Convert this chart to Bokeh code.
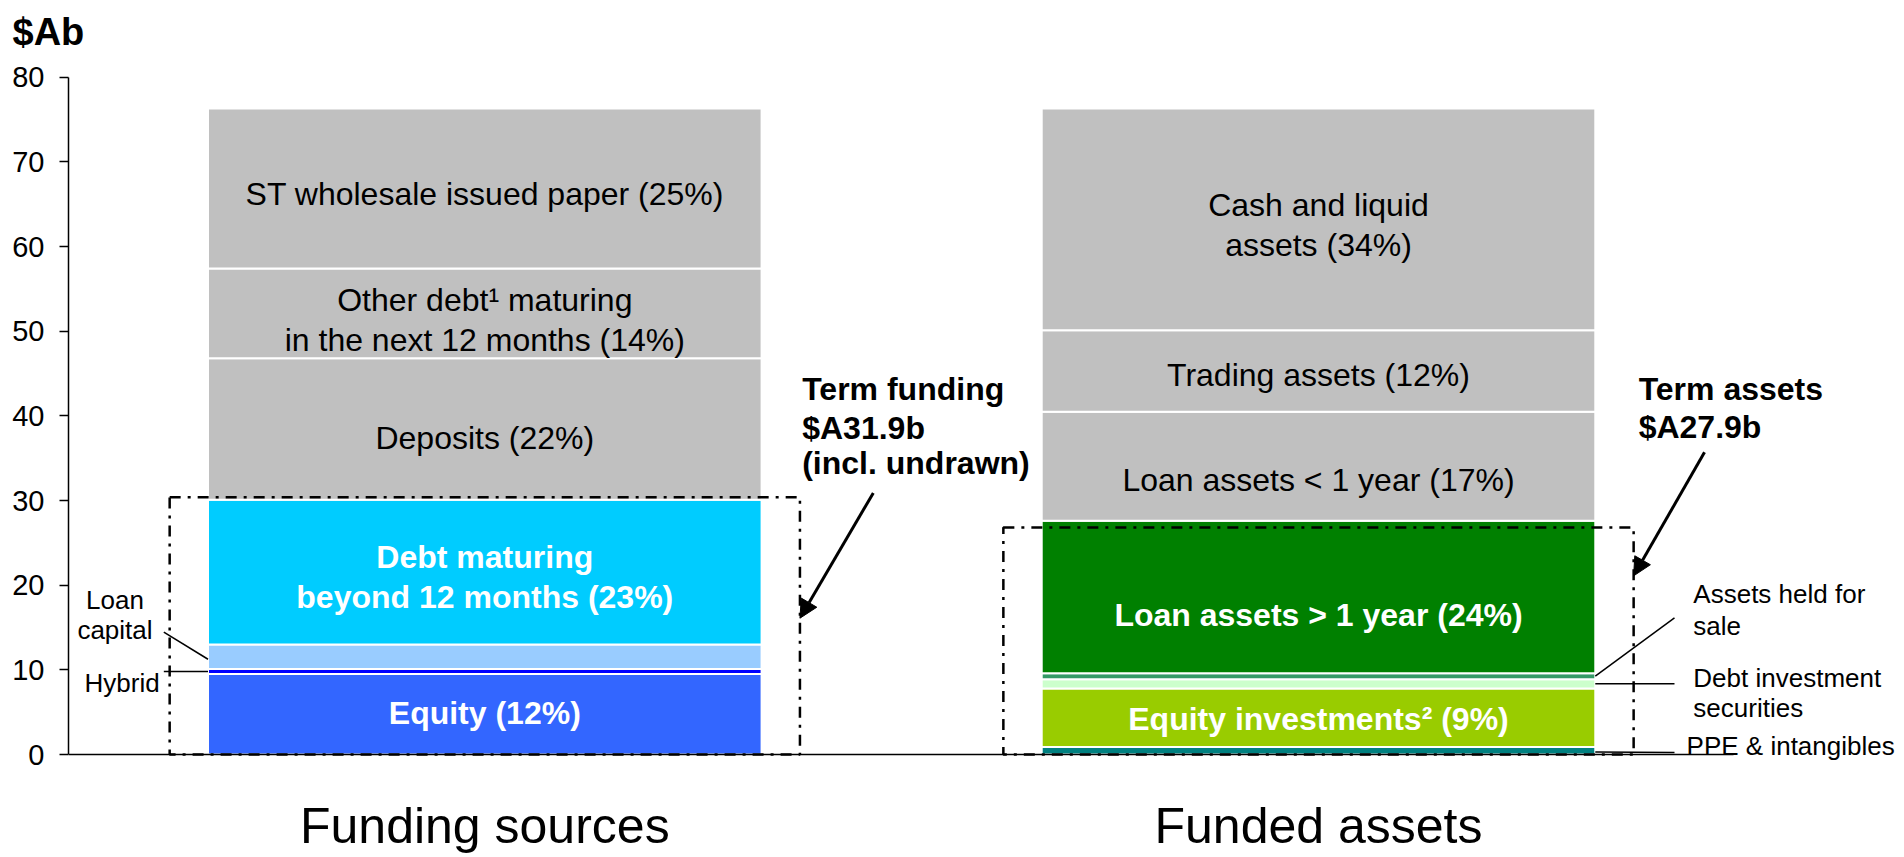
from bokeh.plotting import figure
from bokeh.models import Arrow, NormalHead, FixedTicker, Range1d, ColumnDataSource
from bokeh.core.properties import value
from bokeh.embed import file_html
from bokeh.resources import INLINE

FONT = "Liberation Sans"

# ---------------- data ----------------
categories = ["Funding sources", "Funded assets"]

funding_segments = ["Equity", "Hybrid", "Loan capital", "Debt maturing beyond 12 months",
                    "Deposits", "Other debt maturing in the next 12 months",
                    "ST wholesale issued paper"]
funding_values = [9.5, 0.6, 2.9, 17.1, 16.7, 10.6, 18.9]

asset_segments = ["PPE & intangibles", "Equity investments", "Debt investment securities",
                  "Assets held for sale", "Loan assets > 1 year", "Loan assets < 1 year",
                  "Trading assets", "Cash and liquid assets"]
asset_values = [0.9, 6.9, 1.1, 0.7, 18.0, 12.9, 9.6, 26.2]

term_titles = ["Term funding", "Term assets"]
term_totals = ["$A31.9b", "$A27.9b"]
term_box_tops = [30.4, 26.8]

y_ticks = [0, 10, 20, 30, 40, 50, 60, 70, 80]

# in-bar label text (segment index -> lines)
funding_inbar = {0: ["Equity (12%)"],
                 3: ["Debt maturing", "beyond 12 months (23%)"],
                 4: ["Deposits (22%)"],
                 5: ["Other debt\u00b9 maturing", "in the next 12 months (14%)"],
                 6: ["ST wholesale issued paper (25%)"]}
asset_inbar = {1: ["Equity investments\u00b2 (9%)"],
               4: ["Loan assets > 1 year (24%)"],
               5: ["Loan assets < 1 year (17%)"],
               6: ["Trading assets (12%)"],
               7: ["Cash and liquid", "assets (34%)"]}

# ---------------- styles / layout ----------------
funding_colors = ["#3366FF", "#0000FF", "#99CCFF", "#00CCFF", "#C0C0C0", "#C0C0C0", "#C0C0C0"]
asset_colors = ["#008080", "#99CC00", "#CCFFCC", "#339966", "#008000", "#C0C0C0", "#C0C0C0", "#C0C0C0"]
funding_bold = {0, 3}
asset_bold = {1, 4}
funding_nudge = {0: -1, 3: 5, 4: 9, 5: 7, 6: 5}
asset_nudge = {1: 1, 4: 18, 5: 14, 6: 4, 7: 6}
BAR_W = 0.664
BOX_HALF = 0.378
LINE_GAP = 40

W, H = 1900, 855
LEFT, TOP = 68, 60
PX_X = 833.7          # px per x unit
PX_Y = 8.466          # px per y unit
X0_PX = 484.3         # page x of x=0
Y0_PX = 754.0         # page y of y=0
x_lo = (LEFT - X0_PX) / PX_X
x_hi = (W - X0_PX) / PX_X
y_hi = (Y0_PX - TOP) / PX_Y
y_lo = (Y0_PX - H) / PX_Y

p = figure(width=W, height=H, output_backend="svg", toolbar_location=None,
           x_range=Range1d(x_lo, x_hi), y_range=Range1d(y_lo, y_hi),
           x_axis_location=None,
           min_border_left=LEFT, min_border_right=0, min_border_top=TOP, min_border_bottom=0,
           title="$Ab")
p.background_fill_color = "white"
p.border_fill_color = "white"
p.outline_line_color = None
p.xgrid.visible = False
p.ygrid.visible = False

p.title.text_font = FONT
p.title.text_font_size = "38px"
p.title.text_font_style = "bold"
p.title.text_color = "black"
p.title.align = "left"
p.title.offset = 12 - LEFT
p.title.standoff = 15

# y axis
p.yaxis.bounds = (0, 80)
p.yaxis.ticker = FixedTicker(ticks=y_ticks)
p.yaxis.major_label_text_font = FONT
p.yaxis.major_label_text_font_size = "29px"
p.yaxis.major_label_text_color = "black"
p.yaxis.major_tick_out = 9
p.yaxis.major_tick_in = 0
p.yaxis.minor_tick_line_color = None
p.yaxis.major_label_standoff = 15
p.yaxis.axis_line_color = "black"
p.yaxis.axis_line_width = 1.5
p.yaxis.major_tick_line_width = 1.5


def stack(vals):
    bottoms, tops = [], []
    acc = 0.0
    for v in vals:
        bottoms.append(acc)
        acc += v
        tops.append(acc)
    return bottoms, tops


txt_x, txt_y, txt_t, txt_off, txt_col, txt_style = [], [], [], [], [], []

for xi, (vals, cols, inbar, bold, nudge) in enumerate([
        (funding_values, funding_colors, funding_inbar, funding_bold, funding_nudge),
        (asset_values, asset_colors, asset_inbar, asset_bold, asset_nudge)]):
    b, t = stack(vals)
    src = ColumnDataSource(dict(x=[xi] * len(vals), bottom=b, top=t, color=cols))
    p.vbar(x="x", width=BAR_W, bottom="bottom", top="top", fill_color="color",
           line_color="white", line_width=2, source=src)
    for idx, lines in inbar.items():
        mid = (b[idx] + t[idx]) / 2
        n = len(lines)
        for k, ln in enumerate(lines):
            txt_x.append(xi)
            txt_y.append(mid)
            txt_t.append(ln)
            txt_off.append((k - (n - 1) / 2) * LINE_GAP + nudge[idx])
            txt_col.append("white" if idx in bold else "black")
            txt_style.append("bold" if idx in bold else "normal")

tsrc = ColumnDataSource(dict(x=txt_x, y=txt_y, text=txt_t, off=txt_off, col=txt_col, st=txt_style))
p.text(x="x", y="y", text="text", y_offset="off", text_color="col", text_font_style="st",
       text_font=value(FONT), text_font_size="32px", text_align="center",
       text_baseline="middle", source=tsrc)

# baseline (category axis line)
p.segment(x0=[x_lo], y0=[0], x1=[1.4978], y1=[0], line_color="black", line_width=1.5)

# term boxes (dash-dot)
for xi, top in enumerate(term_box_tops):
    p.quad(left=xi - BOX_HALF, right=xi + BOX_HALF, bottom=0, top=top,
           fill_color=None, line_color="black", line_width=2.5, line_dash="11 7 3 7")

# leader lines
fb, ft = stack(funding_values)
ab, at = stack(asset_values)
L = -BAR_W / 2
R = 1 + BAR_W / 2
seg_x0 = [L - 0.053, L - 0.053, R, R, R]
seg_x1 = [L, L, R + 0.095, R + 0.095, R + 0.095]
seg_y0 = [(fb[2] + ft[2]) / 2 + 2.9, (fb[1] + ft[1]) / 2,
          (ab[3] + at[3]) / 2, (ab[2] + at[2]) / 2, (ab[0] + at[0]) / 2 - 0.15]
seg_y1 = [(fb[2] + ft[2]) / 2 - 0.3, (fb[1] + ft[1]) / 2,
          (ab[3] + at[3]) / 2 + 6.9, (ab[2] + at[2]) / 2, (ab[0] + at[0]) / 2 - 0.2]
p.segment(x0=seg_x0, y0=seg_y0, x1=seg_x1, y1=seg_y1, line_color="black", line_width=1.5)

# arrows
p.add_layout(Arrow(end=NormalHead(size=18, fill_color="black", line_color="black"),
                   x_start=0.466, y_start=30.9, x_end=BOX_HALF, y_end=16.1,
                   line_color="black", line_width=3))
p.add_layout(Arrow(end=NormalHead(size=18, fill_color="black", line_color="black"),
                   x_start=1.463, y_start=35.7, x_end=1 + BOX_HALF, y_end=21.1,
                   line_color="black", line_width=3))

# free annotations as text glyphs; y is the text baseline, drawn via middle + offset
ann = dict(x=[], y=[], text=[], size=[], st=[], align=[], off=[])


def lab(x, y, text, size_px, bold=False, align="left"):
    ann["x"].append(x)
    ann["y"].append(y)
    ann["text"].append(text)
    ann["size"].append(f"{size_px}px")
    ann["st"].append("bold" if bold else "normal")
    ann["align"].append(align)
    ann["off"].append(-0.347 * size_px)


lab(0.3807, 41.9, term_titles[0], 32, True)
lab(0.3807, 37.3, term_totals[0], 32, True)
lab(0.3807, 33.1, "(incl. undrawn)", 32, True)
lab(1.384, 41.9, term_titles[1], 32, True)
lab(1.384, 37.4, term_totals[1], 32, True)

lab(-0.4436, 17.2, "Loan", 26, align="center")
lab(-0.4436, 13.6, "capital", 26, align="center")
lab(-0.435, 7.4, "Hybrid", 26, align="center")
lab(1.4496, 17.85, "Assets held for", 26)
lab(1.4496, 14.06, "sale", 26)
lab(1.4496, 8.0, "Debt investment", 26)
lab(1.4496, 4.4, "securities", 26)
lab(1.4415, -0.02, "PPE & intangibles", 26)

for xi, c in enumerate(categories):
    lab(xi, -10.5, c, 50, align="center")

p.text(x="x", y="y", text="text", y_offset="off", text_font_size="size", text_font_style="st",
       text_align="align", text_baseline="middle", text_color="black",
       text_font=value(FONT), source=ColumnDataSource(ann))

open("out.html", "w").write(file_html(p, INLINE))
